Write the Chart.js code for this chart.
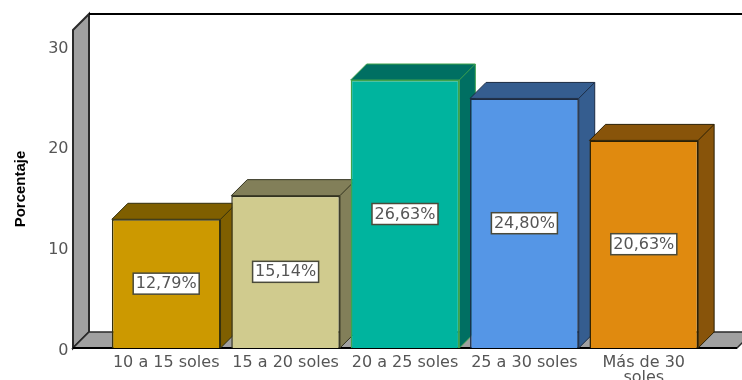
<!DOCTYPE html>
<html>
<head>
<meta charset="utf-8">
<script src="https://cdn.jsdelivr.net/npm/chart.js@4"></script>
<style>
  html, body { margin: 0; padding: 0; background: #fff; overflow: hidden; }
  #wrap { width: 742px; height: 380px; }
</style>
</head>
<body>
<div id="wrap"><canvas id="chart" width="742" height="380"></canvas></div>
<script>
const categories = ["10 a 15 soles", "15 a 20 soles", "20 a 25 soles", "25 a 30 soles", ["Más de 30", "soles"]];
const percentages = [12.79, 15.14, 26.63, 24.8, 20.63];
const yTicks = [0, 10, 20, 30];

const frontColors = ["#cc9900", "#d0cb8e", "#00b49e", "#5596e6", "#e08a0f"];
const sideColors = ["#7f5f00", "#827f59", "#006f62", "#355d8f", "#88540a"];
const edgeColors = ["#33300f", "#33331f", "#3fa34d", "#1c2c44", "#2b2005"];

const depth = 16; // 3D offset of the box, up and to the right
const textFont = "'DejaVu Sans', sans-serif";

// Back wall, left wall and floor of the 3D box
const wallsPlugin = {
  id: "walls",
  beforeDraw(chart) {
    // y tick labels sit a little lower than Chart.js centres them
    chart.scales.y.getLabelItems().forEach((item) => {
      if (!item.moved) {
        item.options.translation[1] += 2.5;
        item.moved = true;
      }
    });
  },
  beforeDatasetsDraw(chart) {
    const { ctx, chartArea } = chart;
    const left = chartArea.left - 33.5;
    const right = chartArea.right + 33.5;
    const top = chartArea.top;
    const bottom = chartArea.bottom;

    ctx.save();
    ctx.lineWidth = 2;
    ctx.strokeStyle = "#2a2a2a";
    ctx.fillStyle = "#a0a0a0";

    ctx.beginPath();
    ctx.moveTo(left, top);
    ctx.lineTo(left + depth, top - depth);
    ctx.lineTo(left + depth, bottom - depth);
    ctx.lineTo(left, bottom);
    ctx.closePath();
    ctx.fill();
    ctx.stroke();

    ctx.lineWidth = 1.5;
    ctx.beginPath();
    ctx.moveTo(left, bottom);
    ctx.lineTo(right, bottom);
    ctx.lineTo(right + depth, bottom - depth);
    ctx.lineTo(left + depth, bottom - depth);
    ctx.closePath();
    ctx.fill();
    ctx.stroke();

    ctx.strokeStyle = "#000";
    ctx.lineWidth = 2;
    ctx.beginPath();
    ctx.moveTo(left + depth, top - depth);
    ctx.lineTo(chart.width, top - depth);
    ctx.stroke();

    ctx.beginPath();
    ctx.moveTo(left, bottom);
    ctx.lineTo(right, bottom);
    ctx.stroke();
    ctx.restore();

    // top and side faces, the fronts are drawn by Chart.js over them
    chart.getDatasetMeta(0).data.forEach((bar, i) => {
      const x0 = bar.x - bar.width / 2;
      const x1 = bar.x + bar.width / 2;
      ctx.save();
      ctx.lineWidth = 1;
      ctx.strokeStyle = edgeColors[i];
      ctx.fillStyle = sideColors[i];
      ctx.beginPath();
      ctx.moveTo(x0, bar.y);
      ctx.lineTo(x0 + depth, bar.y - depth);
      ctx.lineTo(x1 + depth, bar.y - depth);
      ctx.lineTo(x1 + depth, bar.base - depth);
      ctx.lineTo(x1, bar.base);
      ctx.lineTo(x1, bar.y);
      ctx.closePath();
      ctx.fill();
      ctx.stroke();
      ctx.beginPath();
      ctx.moveTo(x1, bar.y);
      ctx.lineTo(x1 + depth, bar.y - depth);
      ctx.stroke();
      ctx.restore();
    });
  },
  afterDatasetsDraw(chart) {
    const { ctx } = chart;
    chart.getDatasetMeta(0).data.forEach((bar, i) => {
      const text = percentages[i].toFixed(2).replace(".", ",") + "%";
      const cy = (bar.y + bar.base) / 2;
      ctx.save();
      ctx.font = "16px " + textFont;
      const w = ctx.measureText(text).width + 5;
      const h = 21;
      ctx.fillStyle = "#fff";
      ctx.strokeStyle = "#4a4a3a";
      ctx.lineWidth = 1.5;
      ctx.fillRect(bar.x - w / 2, cy - h / 2, w, h);
      ctx.strokeRect(bar.x - w / 2, cy - h / 2, w, h);
      ctx.fillStyle = "#555";
      ctx.textAlign = "center";
      ctx.textBaseline = "middle";
      ctx.fillText(text, bar.x, cy + 0.5);
      ctx.restore();
    });
  },
};

new Chart(document.getElementById("chart"), {
  type: "bar",
  data: {
    labels: categories,
    datasets: [
      {
        data: percentages,
        backgroundColor: frontColors,
        borderColor: edgeColors,
        borderWidth: 1.5,
        barPercentage: 0.91,
        categoryPercentage: 1,
      },
    ],
  },
  options: {
    responsive: false,
    animation: false,
    layout: { padding: { top: 30, right: 38.5, left: 0, bottom: 0 } },
    plugins: {
      legend: { display: false },
      tooltip: { enabled: false },
    },
    scales: {
      x: {
        grid: { display: false, drawTicks: false },
        border: { display: false },
        afterFit: (scale) => {
          scale.height = 32;
          scale.paddingLeft = 0;
          scale.paddingRight = 0;
        },
        ticks: {
          padding: 7,
          maxRotation: 0,
          autoSkip: false,
          color: "#555",
          font: { family: textFont, size: 16, lineHeight: 0.95 },
        },
      },
      y: {
        min: 0,
        max: 31.6,
        afterFit: (scale) => {
          scale.width = 106.5;
          scale.paddingTop = 0;
          scale.paddingBottom = 0;
        },
        afterBuildTicks: (scale) => { scale.ticks = yTicks.map((value) => ({ value })); },
        grid: { display: false, drawTicks: false },
        border: { display: false },
        title: {
          display: true,
          text: "Porcentaje",
          color: "#000",
          font: { family: "'Liberation Sans', sans-serif", size: 15, weight: "bold" },
          padding: { top: 12, bottom: 0 },
        },
        ticks: {
          padding: 38,
          color: "#555",
          font: { family: textFont, size: 16 },
        },
      },
    },
  },
  plugins: [wallsPlugin],
});
</script>
</body>
</html>
